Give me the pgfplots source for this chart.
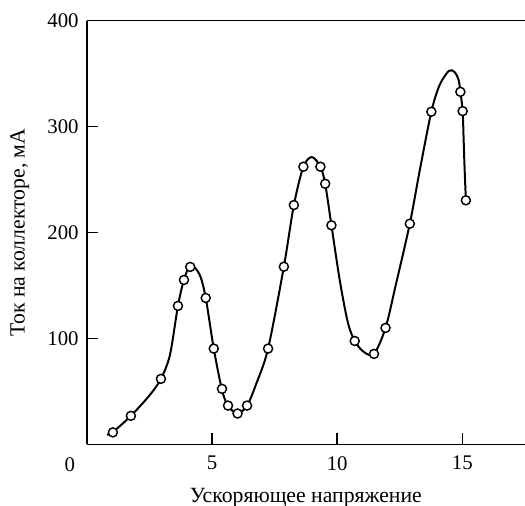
\documentclass[border=0pt]{standalone}
\usepackage{fontspec}
\setmainfont{Liberation Serif}
\usepackage{pgfplots}
\pgfplotsset{compat=1.18}
\begin{document}
\begin{tikzpicture}[font=\fontsize{12}{14}\selectfont]
\begin{axis}[
  scale only axis,
  width=242.1pt, height=234.1pt,
  xmin=0, xmax=17.5, ymin=0, ymax=400,
  axis lines*=left,
  axis line style={line width=0.8pt},
  tick align=inside,
  major tick length=6.3pt,
  tick style={line width=0.8pt, black},
  xtick={5,10,15}, ytick={100,200,300,400},
  /pgf/number format/assume math mode=true,
  tick label style={font=\fontsize{11.5}{14}\selectfont},
  xticklabel style={yshift=-3pt},
  yticklabel style={xshift=-1pt},
  clip=false,
]
\addplot[black, line width=1.1pt, smooth, no marks] coordinates {
(0.81,9.0) (1.05,11.8) (1.76,26.9) (2.52,46.7) (2.96,61.8) (3.32,84.4)
(3.64,130.7) (3.88,155.2) (4.15,169.3) (4.51,160) (4.75,138.2) (5.07,90.4)
(5.39,52.4) (5.63,36.6) (6.02,29.1) (6.40,36.6) (6.75,56.1) (7.24,90.4)
(7.87,167.7) (8.27,225.9) (8.65,262.1) (8.99,271.2) (9.33,262.1) (9.52,246.0)
(9.77,206.8) (10.10,155.2) (10.42,115.6) (10.70,97.6) (11.06,87.3) (11.47,85.4)
(11.93,109.9) (12.34,150.5) (12.90,208.3) (13.30,259.0) (13.76,314.0) (14.09,339.2)
(14.46,352.6) (14.69,351.4) (14.85,343.9) (14.92,332.8) (15.01,314.6) (15.05,287.3)
(15.09,259.0) (15.14,230.4)
};
\addplot[only marks, mark=*, mark size=2.5pt,
  mark options={fill=white, draw=black, line width=0.8pt}] coordinates {
(1.04,11.3) (1.76,26.9) (2.96,61.8) (3.64,130.7) (3.88,155.2) (4.13,167.5)
(4.75,138.2) (5.07,90.4) (5.40,52.4) (5.64,36.6) (6.02,29.1) (6.40,36.6)
(7.24,90.4) (7.87,167.7) (8.27,225.9) (8.65,262.1) (9.33,262.1) (9.52,246.0)
(9.77,206.8) (10.70,97.6) (11.47,85.4) (11.93,109.9) (12.90,208.3) (13.76,314.0)
(14.92,332.8) (15.01,314.6) (15.14,230.4)
};
\draw[line width=0.8pt] (rel axis cs:0,1) -- (rel axis cs:1,1);
\path (rel axis cs:0,0) ++(-9.4pt,-11.3pt) node[font=\fontsize{11.5}{14}\selectfont] {0};
\path (rel axis cs:0.5,0) ++(0,-29.5pt) node {Ускоряющее напряжение};
\path (rel axis cs:0,0.5) ++(-37pt,0) node[rotate=90] {Ток на коллекторе, мА};
\end{axis}
\pgfresetboundingbox
\path[use as bounding box] (-47.96pt,-34.0pt) rectangle (242.1pt,245.5pt);
\end{tikzpicture}
\end{document}
